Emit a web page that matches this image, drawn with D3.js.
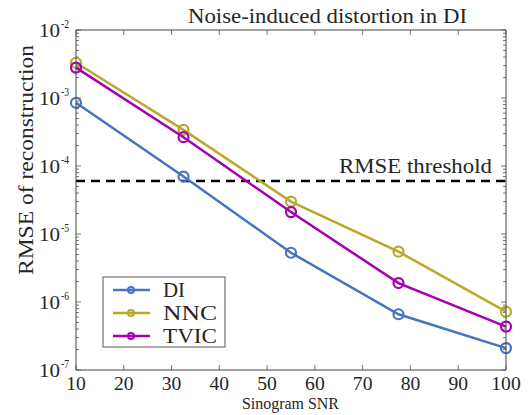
<!DOCTYPE html>
<html>
<head>
<meta charset="utf-8">
<script src="https://cdn.jsdelivr.net/npm/d3@7"></script>
<style>
  body { margin: 0; background: #fff; }
</style>
</head>
<body>
<svg id="chart" width="528" height="415"></svg>
<script>
// data
var snr = [10, 32.5, 55, 77.5, 100];
var rmse_di = [8.5e-4, 7.0e-5, 5.3e-6, 6.6e-7, 2.1e-7];
var rmse_nnc = [3.3e-3, 3.4e-4, 3.0e-5, 5.5e-6, 7.2e-7];
var rmse_tvic = [2.8e-3, 2.65e-4, 2.1e-5, 1.9e-6, 4.35e-7];
var threshold = 6.0e-5;
var x_ticks = [10, 20, 30, 40, 50, 60, 70, 80, 90, 100];
var y_exps = [-7, -6, -5, -4, -3, -2];

var series = [
  {name: "DI", values: rmse_di, color: "#4474c2"},
  {name: "NNC", values: rmse_nnc, color: "#b9a92a"},
  {name: "TVIC", values: rmse_tvic, color: "#a400b2"}
];

var L = 76, R = 506, T = 30, B = 370;
var FONT = "Liberation Serif";
var INK = "#262626";
var BASE = 12; // draw small and scale up, the serif face renders better that way here
var svg = d3.select("#chart");
var x = d3.scaleLinear().domain([10, 100]).range([L, R]);
var y = d3.scaleLog().domain([1e-7, 1e-2]).range([B, T]);

// every label gets a fixed width (the figure uses a wider computer-modern face)
function label(parent, str, size, px, py, w, rot) {
  var k = size / BASE;
  return parent.append("text").text(str)
    .style("font-family", FONT).attr("font-size", BASE).attr("fill", INK)
    .attr("transform", "translate(" + px + "," + py + ")" + (rot ? " rotate(" + rot + ")" : "") + " scale(" + k + ")")
    .attr("textLength", w / k).attr("lengthAdjust", "spacingAndGlyphs");
}

// minor log ticks
var minor = [];
y_exps.slice(0, -1).forEach(function(e) {
  for (var k = 2; k <= 9; k++) minor.push(k * Math.pow(10, e));
});
var grp_ticks = svg.append("g").attr("stroke", "#555").attr("stroke-width", 0.8);
minor.forEach(function(v) {
  grp_ticks.append("line").attr("x1", L).attr("x2", L + 3).attr("y1", y(v)).attr("y2", y(v));
  grp_ticks.append("line").attr("x1", R).attr("x2", R - 3).attr("y1", y(v)).attr("y2", y(v));
});
y_exps.forEach(function(e) {
  var v = Math.pow(10, e);
  grp_ticks.append("line").attr("x1", L).attr("x2", L + 5).attr("y1", y(v)).attr("y2", y(v));
  grp_ticks.append("line").attr("x1", R).attr("x2", R - 5).attr("y1", y(v)).attr("y2", y(v));
});
x_ticks.forEach(function(t) {
  grp_ticks.append("line").attr("x1", x(t)).attr("x2", x(t)).attr("y1", B).attr("y2", B - 5);
  grp_ticks.append("line").attr("x1", x(t)).attr("x2", x(t)).attr("y1", T).attr("y2", T + 5);
});

// threshold line
svg.append("line")
  .attr("x1", L).attr("x2", R)
  .attr("y1", y(threshold)).attr("y2", y(threshold))
  .attr("stroke", "#000").attr("stroke-width", 2.5)
  .attr("stroke-dasharray", "9,6");
label(svg, "RMSE threshold", 20, 339, y(threshold) - 8, 153);

// series
var line = d3.line().x(function(d, i) { return x(snr[i]); }).y(function(d) { return y(d); });
series.forEach(function(s) {
  svg.append("path").datum(s.values)
    .attr("d", line).attr("fill", "none")
    .attr("stroke", s.color).attr("stroke-width", 2.5);
  svg.selectAll(null).data(s.values).enter().append("circle")
    .attr("cx", function(d, i) { return x(snr[i]); })
    .attr("cy", function(d) { return y(d); })
    .attr("r", 5).attr("fill", "none")
    .attr("stroke", s.color).attr("stroke-width", 2.2);
});

// frame
svg.append("path")
  .attr("d", "M" + L + "," + T + "V" + B + "H" + R + "V" + T + "Z")
  .attr("fill", "none").attr("stroke", "#444").attr("stroke-width", 1);

// tick labels
x_ticks.forEach(function(t) {
  label(svg, t, 19, x(t), B + 20, String(t).length * 9.8).attr("text-anchor", "middle");
});
y_exps.forEach(function(e) {
  var yy = y(Math.pow(10, e));
  label(svg, "10", 19, 60, yy + 7, 21).attr("text-anchor", "end");
  label(svg, e, 13, 61, yy - 2, 8);
});

// titles
label(svg, "Noise-induced distortion in DI", 20, 188, 23, 279);
label(svg, "Sinogram SNR", 17, 242, 409, 97);
label(svg, "RMSE of reconstruction", 20, 33, 275, 230, -90);

// legend
var grp_legend = svg.append("g").attr("transform", "translate(103,277)");
grp_legend.append("rect").attr("width", 122).attr("height", 70)
  .attr("fill", "#fff").attr("stroke", "#555").attr("stroke-width", 1);
var legend_w = [22, 54, 54];
series.forEach(function(s, i) {
  var ly = 13 + i * 23;
  grp_legend.append("line").attr("x1", 10).attr("x2", 47).attr("y1", ly).attr("y2", ly)
    .attr("stroke", s.color).attr("stroke-width", 2.5);
  grp_legend.append("circle").attr("cx", 28).attr("cy", ly).attr("r", 3)
    .attr("fill", "none").attr("stroke", s.color).attr("stroke-width", 2);
  label(grp_legend, s.name, 20, 60, ly + 7, legend_w[i]);
});
</script>
</body>
</html>
